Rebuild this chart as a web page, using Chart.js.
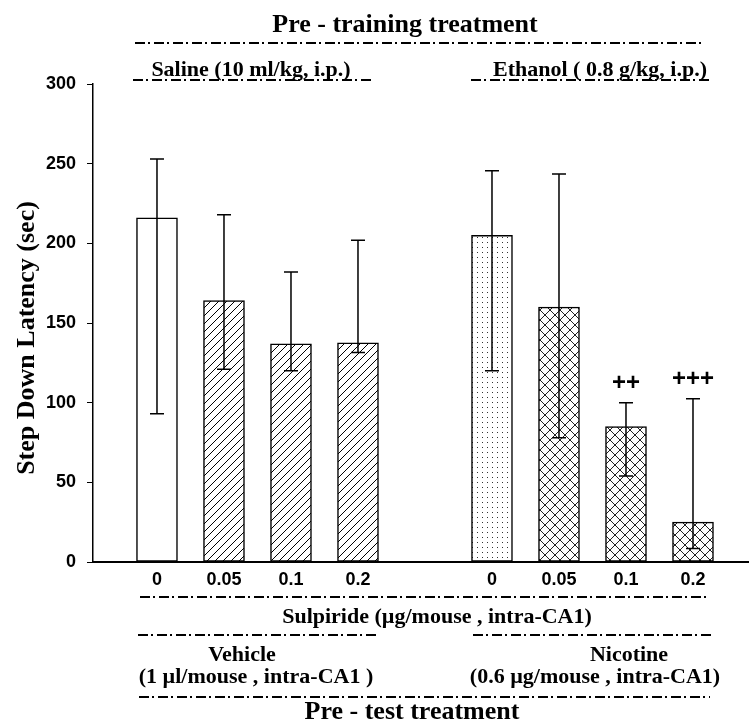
<!DOCTYPE html>
<html><head><meta charset="utf-8">
<script src="https://cdn.jsdelivr.net/npm/chart.js@4.4.1/dist/chart.umd.min.js"></script>
<style>html,body{margin:0;padding:0;background:#fff}canvas{display:block}</style>
</head><body>
<canvas id="c" width="749" height="723"></canvas>
<script>
// ---- data ----
const doses = ['0', '0.05', '0.1', '0.2'];
const pretrainGroups = ['Saline (10 ml/kg, i.p.)', 'Ethanol ( 0.8 g/kg, i.p.)'];
const pretestGroups = [['Vehicle', '(1 µl/mouse , intra-CA1 )'], ['Nicotine', '(0.6 µg/mouse , intra-CA1)']];
const drugLabel = 'Sulpiride (µg/mouse , intra-CA1)';
const titleTop = 'Pre - training treatment';
const titleBottom = 'Pre - test treatment';
const yTitle = 'Step Down Latency (sec)';
const yTicks = [0, 50, 100, 150, 200, 250, 300];

const salineMedian = [216, 164, 137, 137.5];
const salineLow    = [93, 121, 120, 131.5];
const salineHigh   = [253, 218, 182, 202];
const ethanolMedian = [205, 160, 85, 25];
const ethanolLow    = [120, 78, 54, 8.5];
const ethanolHigh   = [245.5, 243.5, 100, 102.5];
const ethanolMarks  = ['', '', '++', '+++'];
const salineMarks   = ['', '', '', ''];

// x labels: two dose groups separated by one empty slot
const xLabels = [...doses, '', ...doses];
const gapOffset = doses.length + 1;

// ---- patterns ----
const mainCtx = document.getElementById('c').getContext('2d');
function makePattern(kind) {
  const c = document.createElement('canvas');
  const g = c.getContext('2d');
  if (kind === 'hatch') {
    c.width = c.height = 8;
    g.fillStyle = '#fff'; g.fillRect(0, 0, 8, 8);
    g.strokeStyle = '#000'; g.lineWidth = 1;
    g.beginPath();
    g.moveTo(0, 8); g.lineTo(8, 0);
    g.moveTo(-2, 2); g.lineTo(2, -2);
    g.moveTo(6, 10); g.lineTo(10, 6);
    g.stroke();
  } else if (kind === 'cross') {
    c.width = c.height = 10;
    g.fillStyle = '#fff'; g.fillRect(0, 0, 10, 10);
    g.strokeStyle = '#222'; g.lineWidth = 1;
    g.beginPath();
    g.moveTo(0, 0); g.lineTo(10, 10);
    g.moveTo(0, 10); g.lineTo(10, 0);
    g.stroke();
  } else if (kind === 'dots') {
    c.width = c.height = 5;
    g.fillStyle = '#fff'; g.fillRect(0, 0, 5, 5);
    g.fillStyle = '#333'; g.fillRect(2, 2, 1, 1);
  }
  return mainCtx.createPattern(c, 'repeat');
}
const hatch = makePattern('hatch');
const cross = makePattern('cross');
const dots = makePattern('dots');

// ---- plugins ----
const whiteBg = {
  id: 'whiteBg',
  beforeDraw(chart) {
    const ctx = chart.ctx;
    ctx.save(); ctx.fillStyle = '#fff'; ctx.fillRect(0, 0, chart.width, chart.height); ctx.restore();
  }
};

const errorBars = {
  id: 'errorBars',
  afterDatasetsDraw(chart) {
    const ctx = chart.ctx, y = chart.scales.y;
    ctx.save();
    ctx.strokeStyle = '#000';
    ctx.lineWidth = 1.5;
    chart.data.datasets.forEach((ds, di) => {
      const meta = chart.getDatasetMeta(di);
      meta.data.forEach((el, i) => {
        const x = el.x;
        const yl = y.getPixelForValue(ds.errLow[i]);
        const yh = y.getPixelForValue(ds.errHigh[i]);
        ctx.beginPath();
        ctx.moveTo(x, yh); ctx.lineTo(x, yl);
        ctx.moveTo(x - 7, yh); ctx.lineTo(x + 7, yh);
        ctx.moveTo(x - 7, yl); ctx.lineTo(x + 7, yl);
        ctx.stroke();
        const m = ds.marks[i];
        if (m) {
          ctx.fillStyle = '#000';
          ctx.font = 'bold 24px "Liberation Sans", Arial, sans-serif';
          ctx.textAlign = 'center';
          ctx.textBaseline = 'middle';
          ctx.fillText(m, x, yh - 19);
        }
      });
    });
    ctx.restore();
  }
};

function dashLine(ctx, x1, x2, yy) {
  ctx.save();
  ctx.strokeStyle = '#000';
  ctx.lineWidth = 2;
  ctx.setLineDash([10, 3, 2, 4]);
  ctx.beginPath(); ctx.moveTo(x1, yy); ctx.lineTo(x2, yy); ctx.stroke();
  ctx.restore();
}

const annotations = {
  id: 'annotations',
  afterDraw(chart) {
    const ctx = chart.ctx;
    ctx.save();
    ctx.fillStyle = '#000';
    ctx.textAlign = 'center';
    ctx.textBaseline = 'alphabetic';
    const big = 'bold 26px "Liberation Serif", "Times New Roman", serif';
    const mid = 'bold 22px "Liberation Serif", "Times New Roman", serif';
    // top
    ctx.font = big; ctx.fillText(titleTop, 405, 32);
    dashLine(ctx, 135, 705, 43);
    ctx.font = mid;
    ctx.fillText(pretrainGroups[0], 251, 76);
    ctx.fillText(pretrainGroups[1], 600, 76);
    dashLine(ctx, 133, 372, 80);
    dashLine(ctx, 471, 712, 80);
    // bottom
    dashLine(ctx, 140, 710, 597);
    ctx.fillText(drugLabel, 437, 623);
    dashLine(ctx, 138, 377, 635);
    dashLine(ctx, 473, 713, 635);
    ctx.fillText(pretestGroups[0][0], 242, 661);
    ctx.fillText(pretestGroups[0][1], 256, 683);
    ctx.fillText(pretestGroups[1][0], 629, 661);
    ctx.fillText(pretestGroups[1][1], 595, 683);
    dashLine(ctx, 139, 710, 697);
    ctx.font = big; ctx.fillText(titleBottom, 412, 719);
    // y title
    ctx.translate(34, 338);
    ctx.rotate(-Math.PI / 2);
    ctx.font = big;
    ctx.fillText(yTitle, 0, 0);
    ctx.restore();
  }
};

// ---- chart ----
new Chart(mainCtx, {
  type: 'bar',
  data: {
    datasets: [
      {
        data: salineMedian.map((v, i) => ({ x: i, y: v })),
        errLow: salineLow, errHigh: salineHigh, marks: salineMarks,
        backgroundColor: ['#fff', hatch, hatch, hatch],
        borderColor: '#000', borderWidth: 1.5, borderSkipped: false,
        barThickness: 41, grouped: false
      },
      {
        data: ethanolMedian.map((v, i) => ({ x: i + gapOffset, y: v })),
        errLow: ethanolLow, errHigh: ethanolHigh, marks: ethanolMarks,
        backgroundColor: [dots, cross, cross, cross],
        borderColor: '#000', borderWidth: 1.5, borderSkipped: false,
        barThickness: 41, grouped: false
      }
    ]
  },
  options: {
    responsive: false,
    devicePixelRatio: 1,
    animation: false,
    layout: { padding: { top: 84, right: 1, left: 0, bottom: 0 } },
    plugins: { legend: { display: false }, tooltip: { enabled: false }, title: { display: false } },
    scales: {
      x: {
        type: 'linear',
        offset: false,
        min: -0.955, max: 8.821,
        afterFit(s) { s.height = 161; },
        afterBuildTicks(s) { s.ticks = xLabels.map((l, i) => ({ value: i })); },
        grid: { display: false, drawTicks: false, offset: false },
        border: { display: true, color: '#000', width: 2 },
        ticks: {
          autoSkip: false, maxRotation: 0, padding: 7, color: '#000',
          font: { family: '"Liberation Sans", Arial, sans-serif', size: 18, weight: 'bold' },
          callback: (v) => xLabels[v] ?? ''
        }
      },
      y: {
        min: 0, max: 300,
        afterFit(s) { s.width = 93; },
        afterBuildTicks(s) { s.ticks = yTicks.map(v => ({ value: v })); },
        grid: { drawOnChartArea: false, drawTicks: true, tickLength: 6, color: '#000', lineWidth: 1 },
        border: { display: true, color: '#000', width: 1.5 },
        ticks: {
          padding: 11, color: '#000',
          font: { family: '"Liberation Sans", Arial, sans-serif', size: 18, weight: 'bold' }
        }
      }
    }
  },
  plugins: [whiteBg, errorBars, annotations]
});
</script>
</body></html>
